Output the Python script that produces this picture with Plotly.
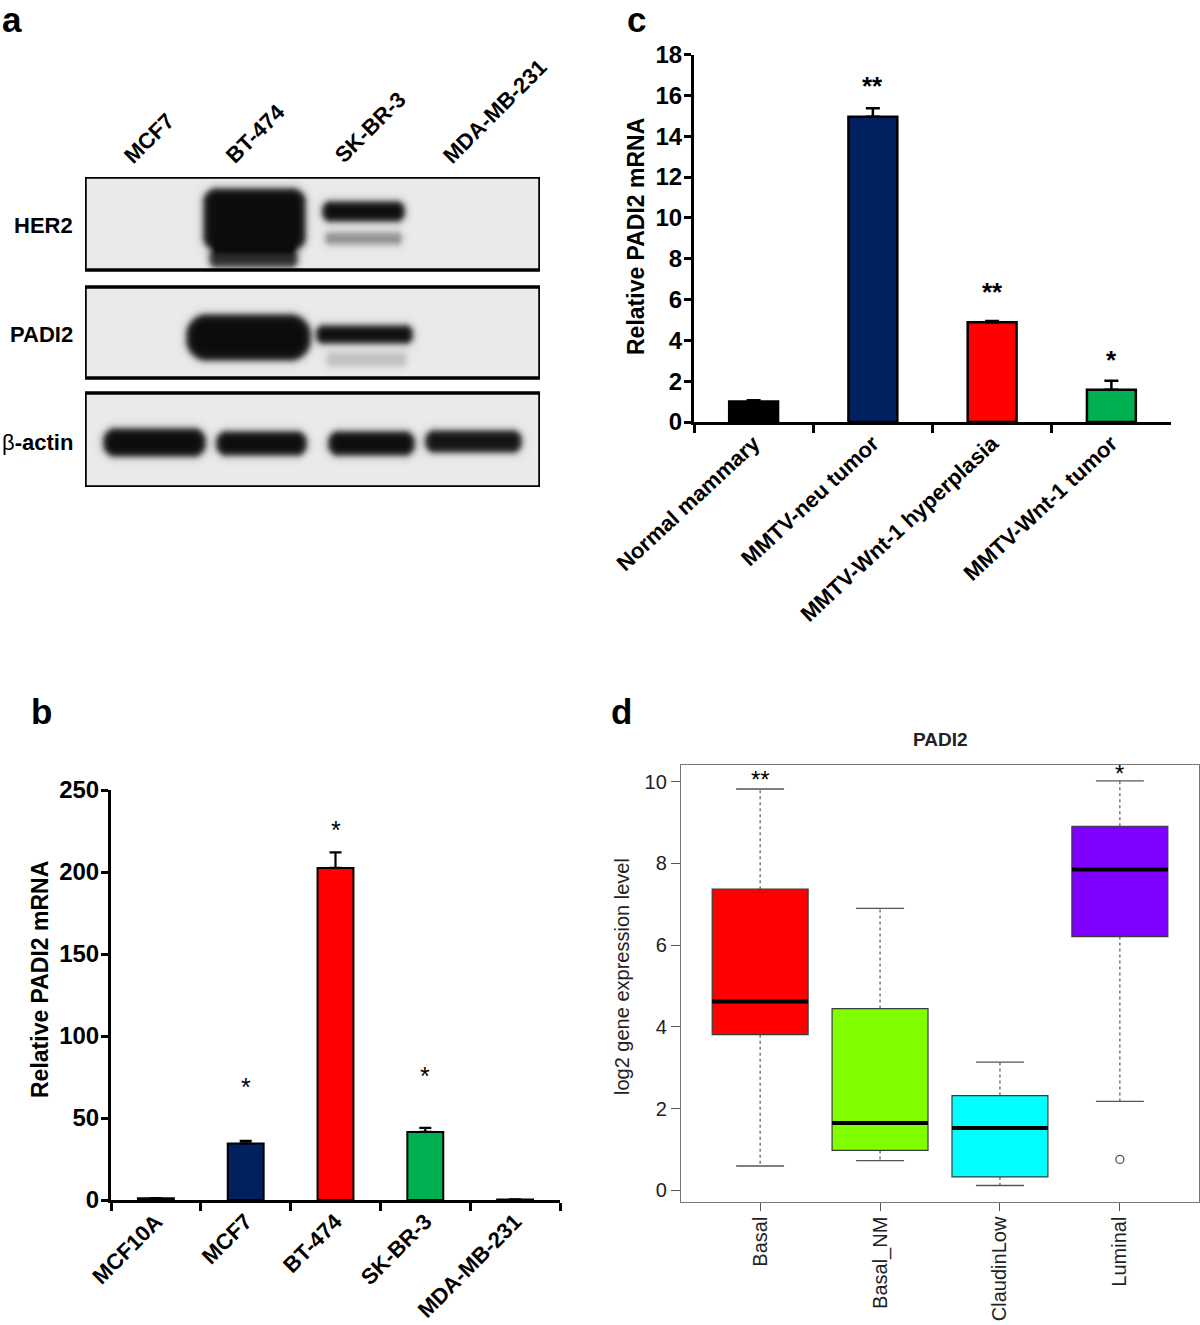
import numpy as np
import plotly.graph_objects as go

W, H = 1200, 1325
FONT = "Liberation Sans, Arial, Helvetica, sans-serif"

# ---------------- data ----------------
# panel a: western blot (relative band darkness per lane)
blot_lanes = ["MCF7", "BT-474", "SK-BR-3", "MDA-MB-231"]
blot_rows = ["HER2", "PADI2", "β-actin"]
her2_main = [0.0, 1.0, 1.0, 0.0]
her2_lower = [0.0, 0.85, 0.40, 0.0]
padi2_main = [0.0, 1.0, 1.0, 0.0]
padi2_lower = [0.0, 0.0, 0.18, 0.0]
actin_main = [1.0, 1.0, 1.0, 0.97]

# panel b
b_cells = ["MCF10A", "MCF7", "BT-474", "SK-BR-3", "MDA-MB-231"]
b_values = [1.0, 34.5, 202.5, 41.5, 0.3]
b_errors = [0.2, 1.5, 9.5, 2.5, 0.1]
b_stars = ["", "*", "*", "*", ""]
b_star_y = [None, 69, 225.5, 75.5, None]

# panel c
c_groups = ["Normal mammary", "MMTV-neu tumor", "MMTV-Wnt-1 hyperplasia", "MMTV-Wnt-1 tumor"]
c_values = [1.0, 14.95, 4.88, 1.58]
c_errors = [0.07, 0.42, 0.07, 0.44]
c_stars = ["", "**", "**", "*"]
c_star_y = [None, 16.45, 6.35, 3.05]

# panel d (box statistics)
d_groups = ["Basal", "Basal_NM", "ClaudinLow", "Luminal"]
d_low = [0.60, 0.73, 0.12, 2.18]
d_q1 = [3.81, 0.98, 0.33, 6.21]
d_median = [4.62, 1.65, 1.53, 7.85]
d_q3 = [7.37, 4.45, 2.32, 8.91]
d_high = [9.82, 6.90, 3.14, 10.02]
d_outlier_group = ["Luminal"]
d_outlier_value = [0.76]
d_stars = ["**", "", "", "*"]
d_star_y = [10.05, None, None, 10.2]

# ---------------- styles / geometry ----------------
b_colors = ["#000000", "#002060", "#ff0000", "#00b050", "#000000"]
c_colors = ["#000000", "#002060", "#ff0000", "#00b050"]
d_colors = ["#ff0000", "#80ff00", "#00ffff", "#8000ff"]

def px_x(p):
    return p / W

def px_y(p):
    return 1 - p / H

fig = go.Figure()

# ---------- panel a : blot rendered as heatmaps ----------
box_x = (85, 540)
box_y = [(177, 270), (287, 378), (393, 487)]
lane_cx = [154, 256, 365, 473]
# per band kind: (row, intensities, x-offsets, half-widths, y centres, half heights, corner factors)
band_defs = [
    (0, her2_main, [0, -2, -2, 0], [45, 51, 41, 45], [214, 219, 211, 214], [26, 31, 10, 26], [0.5, 0.45, 0.9, 0.5]),
    (0, her2_lower, [0, -3, -2, 0], [45, 44, 38, 45], [253, 258, 238, 253], [14, 9, 6, 14], [0.9, 0.9, 0.9, 0.9]),
    (1, padi2_main, [0, -8, -1, 0], [50, 62, 48, 45], [337, 337, 334, 337], [23, 23, 9, 23], [0.9, 0.9, 0.9, 0.9]),
    (1, padi2_lower, [0, -8, 1, 0], [50, 55, 40, 45], [359, 359, 359, 359], [7, 7, 7, 7], [0.9, 0.9, 0.9, 0.9]),
    (2, actin_main, [0, 5, 6, 0], [51, 45, 43, 48], [442, 443, 443, 441], [14, 12, 12, 11], [0.9, 0.9, 0.9, 0.9]),
]

def rrect_dark(X, Y, cx, cy, hw, hh, cf, soft=2.0):
    rc = min(hh, hw) * cf
    qx = np.abs(X - cx) - (hw - rc)
    qy = np.abs(Y - cy) - (hh - rc)
    outside = np.sqrt(np.maximum(qx, 0) ** 2 + np.maximum(qy, 0) ** 2)
    inside = np.minimum(np.maximum(qx, qy), 0)
    dist = outside + inside - rc
    return 1 / (1 + np.exp(dist / soft))

for r, (y0, y1) in enumerate(box_y):
    xs = np.arange(box_x[0] + 1, box_x[1], 2.0)
    ys = np.arange(y0 + 1, y1, 2.0)
    X, Y = np.meshgrid(xs, ys)
    Z = np.zeros_like(X)
    for row, inten, dx, hws, cys, hhs, cfs in band_defs:
        if row != r:
            continue
        for k in range(len(blot_lanes)):
            if inten[k] > 0:
                Z += inten[k] * rrect_dark(X, Y, lane_cx[k] + dx[k], cys[k], hws[k], hhs[k], cfs[k])
    Z = np.clip(Z, 0, 1)
    fig.add_trace(go.Heatmap(
        x=xs, y=ys, z=Z, zmin=0, zmax=1, showscale=False, zsmooth="best",
        colorscale=[[0, "rgb(234,234,234)"], [0.5, "rgb(120,120,120)"], [1, "rgb(12,12,12)"]],
        hoverinfo="skip", xaxis="x", yaxis="y"))

shapes = []
for (y0, y1) in box_y:
    shapes.append(dict(type="rect", xref="x", yref="y", x0=box_x[0], x1=box_x[1], y0=y0, y1=y1,
                       line=dict(color="black", width=3.5)))

annotations = []

def ann(text, x, y, size, color="black", angle=0, xa="center", ya="middle", weight="normal",
        xref="paper", yref="paper", yshift=0):
    annotations.append(dict(text=text, x=x, y=y, xref=xref, yref=yref, xanchor=xa, yanchor=ya,
                            textangle=angle, showarrow=False, yshift=yshift,
                            font=dict(family=FONT, size=size, color=color, weight=weight)))

for k, lane in enumerate(blot_lanes):
    ann(lane, px_x(lane_cx[k] - 38), px_y(171), 22, angle=-45, xa="left", ya="bottom",
        weight="bold")
row_text = ["<b>HER2</b>", "<b>PADI2</b>", "β<b>-actin</b>"]
for r, (y0, y1) in enumerate(box_y):
    ann(row_text[r], px_x(75), px_y((y0 + y1) / 2 + 2), 22, xa="right")

# ---------- panel b ----------
fig.add_trace(go.Bar(
    x=b_cells, y=b_values, width=0.4, xaxis="x2", yaxis="y2",
    marker=dict(color=b_colors, line=dict(color="black", width=2)),
    error_y=dict(type="data", symmetric=False, array=b_errors, arrayminus=[0] * len(b_errors),
                 color="black", thickness=2.2, width=6),
    hoverinfo="skip"))
for cat, sy, s in zip(b_cells, b_star_y, b_stars):
    if s:
        ann(s, cat, sy, 25, xref="x2", yref="y2")

# ---------- panel c ----------
fig.add_trace(go.Bar(
    x=c_groups, y=c_values, width=0.41, xaxis="x3", yaxis="y3",
    marker=dict(color=c_colors, line=dict(color="black", width=2.5)),
    error_y=dict(type="data", symmetric=False, array=c_errors, arrayminus=[0] * len(c_errors),
                 color="black", thickness=2.5, width=7),
    hoverinfo="skip"))
for cat, sy, s in zip(c_groups, c_star_y, c_stars):
    if s:
        ann(s, cat, sy, 26, xref="x3", yref="y3", weight="bold")

# ---------- panel d ----------
pos = list(range(1, len(d_groups) + 1))
for i, g in enumerate(d_groups):
    fig.add_trace(go.Box(
        x=[pos[i]], q1=[d_q1[i]], median=[d_median[i]], q3=[d_q3[i]],
        lowerfence=[d_q1[i]], upperfence=[d_q3[i]], width=0.8,
        fillcolor=d_colors[i], line=dict(color="#3a3a3a", width=1.2),
        xaxis="x4", yaxis="y4", hoverinfo="skip", boxpoints=False))
wx, wy, cx_, cy_ = [], [], [], []
for i in range(len(d_groups)):
    wx += [pos[i], pos[i], None, pos[i], pos[i], None]
    wy += [d_q3[i], d_high[i], None, d_q1[i], d_low[i], None]
    cx_ += [pos[i] - 0.2, pos[i] + 0.2, None, pos[i] - 0.2, pos[i] + 0.2, None]
    cy_ += [d_high[i], d_high[i], None, d_low[i], d_low[i], None]
fig.add_trace(go.Scatter(x=wx, y=wy, mode="lines", xaxis="x4", yaxis="y4",
                         line=dict(color="#555555", width=1.2, dash="3px,3px"), hoverinfo="skip"))
fig.add_trace(go.Scatter(x=cx_, y=cy_, mode="lines", xaxis="x4", yaxis="y4",
                         line=dict(color="#555555", width=1.4), hoverinfo="skip"))
mx, my = [], []
for i in range(len(d_groups)):
    mx += [pos[i] - 0.4, pos[i] + 0.4, None]
    my += [d_median[i], d_median[i], None]
fig.add_trace(go.Scatter(x=mx, y=my, mode="lines", xaxis="x4", yaxis="y4",
                         line=dict(color="black", width=4), hoverinfo="skip"))
fig.add_trace(go.Scatter(x=[pos[d_groups.index(g)] for g in d_outlier_group], y=d_outlier_value,
                         mode="markers", xaxis="x4", yaxis="y4",
                         marker=dict(symbol="circle-open", size=8, color="#555555", line=dict(width=1.3)),
                         hoverinfo="skip"))
for i, s in enumerate(d_stars):
    if s:
        ann(s, pos[i], d_star_y[i], 24, xref="x4", yref="y4")

# ---------- titles / panel letters ----------
ytitle = "<b>Relative PADI2 mRNA</b>"
ann("<b>a</b>", px_x(12), px_y(20), 35)
ann("<b>b</b>", px_x(41), px_y(712), 35)
ann("<b>c</b>", px_x(636), px_y(20), 35)
ann("<b>d</b>", px_x(621), px_y(712), 35)
ann(ytitle, px_x(40), px_y(980), 23, angle=-90)
ann(ytitle, px_x(636), px_y(237), 23, angle=-90)
ann("log2 gene expression level", px_x(622), px_y(977), 20, color="#222222", angle=-90)
ann("<b>PADI2</b>", px_x(940), px_y(739), 19, color="#222222")

bold_tick = dict(family=FONT, size=24, color="black", weight="bold")
bold_xtick = dict(family=FONT, size=22, color="black", weight="bold")
bar_xaxis = dict(type="category", showline=True, linecolor="black", linewidth=3, ticks="outside",
                 tickson="boundaries", ticklen=8, tickwidth=3, tickcolor="black",
                 tickfont=bold_xtick, showgrid=False, zeroline=False, fixedrange=True,
                 automargin=False, ticklabelstandoff=-3)
bar_yaxis = dict(showline=True, linecolor="black", linewidth=3, ticks="outside", ticklen=7,
                 tickwidth=3, tickcolor="black", tickfont=bold_tick, showgrid=False,
                 zeroline=False, fixedrange=True, automargin=False, ticklabelstandoff=-3)

fig.update_layout(
    width=W, height=H, margin=dict(l=0, r=0, t=0, b=0, pad=0, autoexpand=False),
    paper_bgcolor="white", plot_bgcolor="white", showlegend=False,
    xaxis=dict(domain=[px_x(85), px_x(540)], range=[85, 540], visible=False, fixedrange=True,
               automargin=False),
    yaxis=dict(domain=[px_y(487), px_y(177)], range=[487, 177], visible=False, fixedrange=True,
               automargin=False),
    xaxis2=dict(bar_xaxis, domain=[px_x(111), px_x(560)], range=[-0.5, 4.5], anchor="y2",
                tickangle=-45),
    yaxis2=dict(bar_yaxis, domain=[px_y(1200), px_y(790)], range=[0, 250], dtick=50, anchor="x2"),
    xaxis3=dict(bar_xaxis, domain=[px_x(694), px_x(1171)], range=[-0.5, 3.5], anchor="y3",
                tickangle=-43),
    yaxis3=dict(bar_yaxis, domain=[px_y(422), px_y(54.5)], range=[0, 18], dtick=2, anchor="x3"),
    xaxis4=dict(domain=[px_x(681), px_x(1199)], range=[0.34, 4.66], anchor="y4",
                tickvals=pos, ticktext=d_groups, tickangle=-90, ticks="outside", ticklen=8,
                tickcolor="#555555", showline=True, mirror=True, linecolor="#777777", linewidth=1.3,
                tickfont=dict(family=FONT, size=20, color="#222222"), showgrid=False,
                zeroline=False, fixedrange=True, automargin=False, ticklabelstandoff=-2),
    yaxis4=dict(domain=[px_y(1201.5), px_y(764.5)], range=[-0.27, 10.42], anchor="x4",
                tickvals=[0, 2, 4, 6, 8, 10], ticks="outside", ticklen=9, tickcolor="#555555",
                showline=True, mirror=True, linecolor="#777777", linewidth=1.3,
                tickfont=dict(family=FONT, size=20, color="#222222"), showgrid=False,
                zeroline=False, fixedrange=True, automargin=False),
    shapes=shapes, annotations=annotations,
)

fig.write_html("out.html", include_plotlyjs=True, config={"displayModeBar": False},
               post_script="document.body.style.margin='0';")
